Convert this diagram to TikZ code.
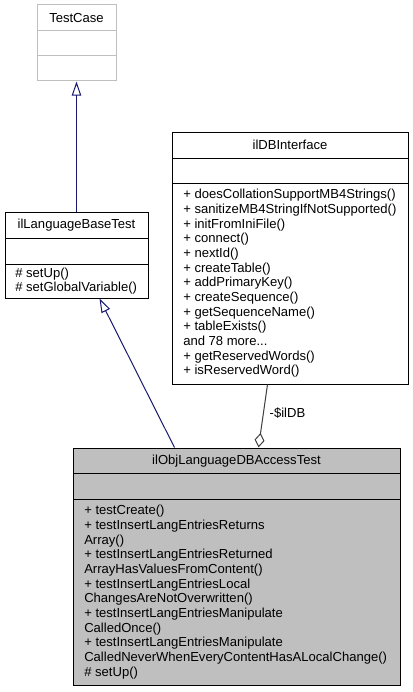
\documentclass[tikz,border=0pt]{standalone}
\usepackage{fontspec}
\setmainfont{Liberation Sans}
\usetikzlibrary{arrows.meta,calc}
\definecolor{edgeblue}{HTML}{191970}
\definecolor{aggrgray}{HTML}{404040}
\definecolor{lightborder}{HTML}{BFBFBF}
\definecolor{boxfill}{HTML}{BFBFBF}
\begin{document}
\begin{tikzpicture}[x=0.75pt,y=-0.75pt,
  every node/.style={font=\fontsize{9.8}{11}\selectfont, inner sep=0pt},
  classbox/.style={draw=black, line width=0.75pt, fill=white, rectangle},
  extbox/.style={draw=lightborder, line width=0.75pt, fill=white, rectangle},
  curbox/.style={draw=black, line width=0.75pt, fill=boxfill, rectangle},
  divider/.style={line width=0.75pt},
  title/.style={anchor=center},
  members/.style={anchor=west, align=left},
  inherit/.style={draw=edgeblue, line width=0.75pt, -{Triangle[open, length=10.5pt, width=7pt]}},
  aggr/.style={draw=aggrgray, line width=0.75pt, -{Diamond[open, length=11pt, width=7.5pt]}},
  elabel/.style={anchor=west}
]
\useasboundingbox (0,0) rectangle (413,692);

% TestCase
\node[extbox, minimum width=59.25pt, minimum height=57pt] (tc) at (76.5,43) {};
\draw[divider, lightborder] (37,31) -- (116,31);
\draw[divider, lightborder] (37,56) -- (116,56);
\node[title] (tct) at (76.5,18) {TestCase};

% ilLanguageBaseTest
\node[classbox, minimum width=107.25pt, minimum height=64.5pt] (lbt) at (76.5,255) {};
\draw[divider] (5,238) -- (148,238);
\draw[divider] (5,264) -- (148,264);
\node[title] (lbtt) at (76.5,225) {ilLanguageBaseTest};
\node[members] (lbtm) at (15,281) {\# setUp()\\\# setGlobalVariable()};

% ilDBInterface
\node[classbox, minimum width=177pt, minimum height=189pt] (dbi) at (290,258) {};
\draw[divider] (172,158) -- (408,158);
\draw[divider] (172,183) -- (408,183);
\node[title] (dbit) at (290,145) {ilDBInterface};
\node[members] (dbim) at (183,283.5) {+ doesCollationSupportMB4Strings()\\
+ sanitizeMB4StringIfNotSupported()\\
+ initFromIniFile()\\
+ connect()\\
+ nextId()\\
+ createTable()\\
+ addPrimaryKey()\\
+ createSequence()\\
+ getSequenceName()\\
+ tableExists()\\
and 78 more...\\
+ getReservedWords()\\
+ isReservedWord()};

% ilObjLanguageDBAccessTest
\node[curbox, minimum width=245.25pt, minimum height=177.75pt] (obj) at (236.5,566.5) {};
\draw[divider] (73,473) -- (400,473);
\draw[divider] (73,499) -- (400,499);
\node[title] (objt) at (236.5,461) {ilObjLanguageDBAccessTest};
\node[members] (objm) at (84,592) {+ testCreate()\\
+ testInsertLangEntriesReturns\\
Array()\\
+ testInsertLangEntriesReturned\\
ArrayHasValuesFromContent()\\
+ testInsertLangEntriesLocal\\
ChangesAreNotOverwritten()\\
+ testInsertLangEntriesManipulate\\
CalledOnce()\\
+ testInsertLangEntriesManipulate\\
CalledNeverWhenEveryContentHasALocalChange()\\
\# setUp()};

% connectors
\draw[inherit] (lbt.north) -- (tc.south);
\draw[inherit] ($(obj.north west)+(102,0)$) -- ($(lbt.south west)+(95,0)$);
\draw[aggr] ($(dbi.south west)+(96,0)$) -- coordinate[pos=0.45] (lblpt) ($(obj.north west)+(186,0)$);
\node[elabel] (lbl) at ($(lblpt)+(6,0)$) {-\$ilDB};
\end{tikzpicture}
\end{document}
